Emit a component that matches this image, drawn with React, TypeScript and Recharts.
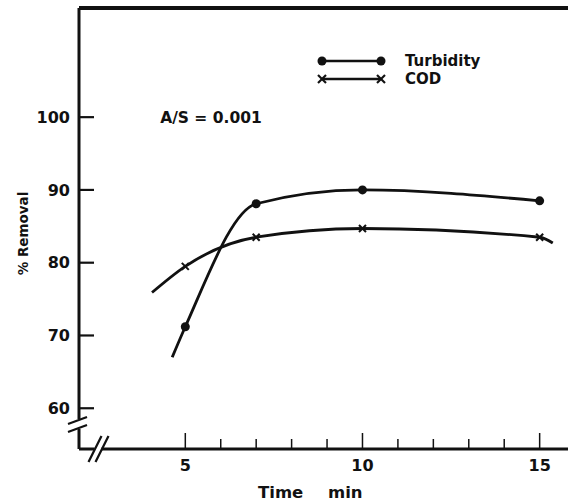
import React from "react";
import {
  Legend,
  Line,
  LineChart,
  ReferenceDot,
  ReferenceLine,
  XAxis,
  YAxis
} from "recharts";

// Turbidity curve (first and last entries are where the drawn curve starts/ends)
const turbidityTime = [4.63, 5, 7, 10, 15];
const turbidityRemoval = [67, 71.2, 88.1, 90, 88.5];
const turbidityMeasured = [false, true, true, true, true];

// COD curve
const codTime = [4.06, 5, 7, 10, 15, 15.37];
const codRemoval = [75.9, 79.5, 83.5, 84.7, 83.5, 82.7];
const codMeasured = [false, true, true, true, true, false];

const xTicks = [5, 6, 7, 8, 9, 10, 11, 12, 13, 14, 15];
const xLabelTicks = [5, 10, 15];
const yTicks = [60, 70, 80, 90, 100];

const X_MIN = 2;
const X_MAX = 15.8;
const Y_MIN = 54.4;
const Y_MAX = 115;

const FONT = "'DejaVu Sans', Verdana, sans-serif";
const INK = "#111";

const turbidityData = turbidityTime.map((t, i) => ({
  t,
  v: turbidityRemoval[i],
  m: turbidityMeasured[i]
}));
const codData = codTime.map((t, i) => ({
  t,
  v: codRemoval[i],
  m: codMeasured[i]
}));

const XTick = (props: any) => {
  const { x, y, payload } = props;
  const major = xLabelTicks.includes(payload.value);
  return (
    <g>
      <line x1={x} x2={x} y1={y} y2={y - (major ? 16 : 10)} stroke={INK} strokeWidth={1.5} />
      {major && (
        <text x={x} y={y + 22} textAnchor="middle" fontFamily={FONT} fontWeight="bold" fontSize={16} fill={INK}>
          {payload.value}
        </text>
      )}
    </g>
  );
};

const YTick = (props: any) => {
  const { x, y, payload } = props;
  return (
    <g>
      <line x1={x} x2={x + 15} y1={y} y2={y} stroke={INK} strokeWidth={2.2} />
      <text x={x - 9} y={y} dy="0.36em" textAnchor="end" fontFamily={FONT} fontWeight="bold" fontSize={16} fill={INK}>
        {payload.value}
      </text>
    </g>
  );
};

const DotMarker = (props: any) => {
  const { cx, cy, payload, index } = props;
  if (!payload.m) return <g key={"d" + index} />;
  return <circle key={"d" + index} cx={cx} cy={cy} r={4.5} fill={INK} />;
};

const CrossMarker = (props: any) => {
  const { cx, cy, payload, index } = props;
  if (!payload.m) return <g key={"c" + index} />;
  return (
    <g key={"c" + index} stroke={INK} strokeWidth={2}>
      <line x1={cx - 3.5} y1={cy - 3.5} x2={cx + 3.5} y2={cy + 3.5} />
      <line x1={cx - 3.5} y1={cy + 3.5} x2={cx + 3.5} y2={cy - 3.5} />
    </g>
  );
};

const LegendContent = () => (
  <div style={{ fontFamily: FONT, fontWeight: "bold", fontSize: 15, color: INK, lineHeight: "18px" }}>
    <div style={{ display: "flex", alignItems: "center" }}>
      <svg width={70} height={18}>
        <line x1={5} x2={64} y1={9} y2={9} stroke={INK} strokeWidth={2.5} />
        <circle cx={5} cy={9} r={4.5} fill={INK} />
        <circle cx={64} cy={9} r={4.5} fill={INK} />
      </svg>
      <span style={{ marginLeft: 18 }}>Turbidity</span>
    </div>
    <div style={{ display: "flex", alignItems: "center" }}>
      <svg width={70} height={18}>
        <line x1={5} x2={64} y1={9} y2={9} stroke={INK} strokeWidth={2.5} />
        <g stroke={INK} strokeWidth={2.2}>
          <line x1={1} y1={5} x2={9} y2={13} />
          <line x1={1} y1={13} x2={9} y2={5} />
          <line x1={60} y1={5} x2={68} y2={13} />
          <line x1={60} y1={13} x2={68} y2={5} />
        </g>
      </svg>
      <span style={{ marginLeft: 18 }}>COD</span>
    </div>
  </div>
);

const YBreak = (props: any) => {
  const { cx, cy } = props;
  return (
    <g>
      <rect x={cx - 3} y={cy - 6} width={6} height={10} fill="#fff" />
      <line x1={cx - 11} y1={cy - 1} x2={cx + 8} y2={cy - 8} stroke={INK} strokeWidth={2.2} />
      <line x1={cx - 11} y1={cy + 7} x2={cx + 8} y2={cy} stroke={INK} strokeWidth={2.2} />
    </g>
  );
};

const XBreak = (props: any) => {
  const { cx, cy } = props;
  return (
    <g>
      <rect x={cx - 4} y={cy - 3} width={7} height={6} fill="#fff" />
      <line x1={cx - 10} y1={cy + 13} x2={cx + 3} y2={cy - 13} stroke={INK} strokeWidth={2.2} />
      <line x1={cx - 3} y1={cy + 13} x2={cx + 10} y2={cy - 13} stroke={INK} strokeWidth={2.2} />
    </g>
  );
};

const AsLabel = (props: any) => {
  const { cx, cy } = props;
  return (
    <text x={cx} y={cy} dy="0.36em" fontFamily={FONT} fontWeight="bold" fontSize={15.5} fill={INK}>
      A/S = 0.001
    </text>
  );
};

const YTitle = (props: any) => {
  const { viewBox } = props;
  const cy = viewBox.y + viewBox.height / 2 + 5;
  return (
    <text
      x={23}
      y={cy}
      transform={`rotate(-90 23 ${cy})`}
      textAnchor="middle"
      dy="0.36em"
      fontFamily={FONT}
      fontWeight="bold"
      fontSize={13.5}
      fill={INK}
    >
      % Removal
    </text>
  );
};

const XTitle = (props: any) => {
  const { viewBox } = props;
  const y = viewBox.y + 49;
  return (
    <text y={y} fontFamily={FONT} fontWeight="bold" fontSize={16.5} fill={INK}>
      <tspan x={viewBox.x + 179}>Time</tspan>
      <tspan x={viewBox.x + 249}>min</tspan>
    </text>
  );
};

export default function App() {
  return (
    <div style={{ position: "absolute", left: 0, top: 0, background: "#fff" }}>
      <LineChart width={568} height={501} margin={{ top: 8, right: 0, bottom: 0, left: 0 }}>
        <XAxis
          type="number"
          dataKey="t"
          domain={[X_MIN, X_MAX]}
          ticks={xTicks}
          allowDataOverflow
          height={52}
          tickLine={false}
          tickSize={0}
          tickMargin={0}
          tick={<XTick />}
          axisLine={{ stroke: INK, strokeWidth: 3 }}
          label={<XTitle />}
        />
        <YAxis
          type="number"
          domain={[Y_MIN, Y_MAX]}
          ticks={yTicks}
          allowDataOverflow
          width={79}
          tickLine={false}
          tickSize={0}
          tickMargin={0}
          tick={<YTick />}
          axisLine={{ stroke: INK, strokeWidth: 3 }}
          label={<YTitle />}
        />
        <ReferenceLine y={Y_MAX} stroke={INK} strokeWidth={4} ifOverflow="visible" />
        <Line
          data={turbidityData}
          dataKey="v"
          type="monotone"
          stroke={INK}
          strokeWidth={2.8}
          dot={DotMarker}
          activeDot={false}
          isAnimationActive={false}
          name="Turbidity"
        />
        <Line
          data={codData}
          dataKey="v"
          type="monotone"
          stroke={INK}
          strokeWidth={2.8}
          dot={CrossMarker}
          activeDot={false}
          isAnimationActive={false}
          name="COD"
        />
        <ReferenceDot x={4.29} y={100} r={0} shape={AsLabel} ifOverflow="visible" />
        <ReferenceDot x={X_MIN} y={57.7} r={0} shape={YBreak} ifOverflow="visible" />
        <ReferenceDot x={2.55} y={Y_MIN} r={0} shape={XBreak} ifOverflow="visible" />
        <Legend
          layout="horizontal"
          verticalAlign="middle"
          align="center"
          content={<LegendContent />}
          wrapperStyle={{ position: "absolute", left: 317, top: 52, width: 220, height: 40 }}
        />
      </LineChart>
    </div>
  );
}
